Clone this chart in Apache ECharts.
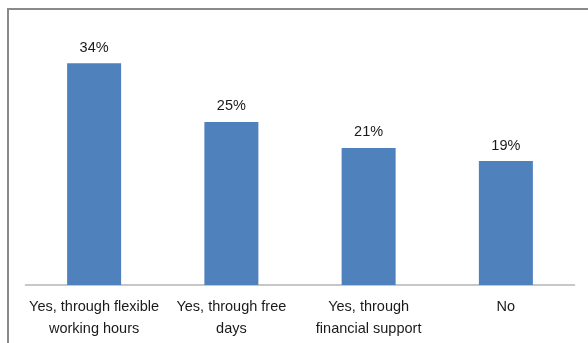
<!DOCTYPE html>
<html>
<head>
<meta charset="utf-8">
<script src="https://cdn.jsdelivr.net/npm/echarts@6/dist/echarts.min.js"></script>
<style>
  html, body { margin: 0; padding: 0; background: #fff; }
  #chart { width: 588px; height: 343px; }
</style>
</head>
<body>
<div id="chart"></div>
<script>
// Survey answers and their shares (percent)
const categories = [
  'Yes, through flexible\nworking hours',
  'Yes, through free\ndays',
  'Yes, through\nfinancial support',
  'No'
];
const shares = [34, 25, 21, 19];

const chart = echarts.init(document.getElementById('chart'), null, { renderer: 'canvas' });

chart.setOption({
  animation: false,
  backgroundColor: '#ffffff',
  textStyle: { fontFamily: 'Liberation Sans, Arial, sans-serif' },
  graphic: [{
    type: 'rect',
    shape: { x: 8, y: 9, width: 620, height: 400 },
    style: { fill: 'none', stroke: '#8a8a8a', lineWidth: 2 },
    silent: true
  }],
  grid: { left: 25.5, right: 13.5, top: 24, bottom: 58, containLabel: false },
  xAxis: {
    type: 'category',
    data: categories,
    axisLine: { show: true, lineStyle: { color: '#b5b5b5', width: 1.5 } },
    axisTick: { show: false },
    axisLabel: {
      interval: 0,
      margin: 11,
      color: '#1a1a1a',
      fontSize: 14.5,
      lineHeight: 22,
      fontFamily: 'Liberation Sans, Arial, sans-serif'
    }
  },
  yAxis: {
    type: 'value',
    min: 0,
    max: 40,
    show: false,
    splitLine: { show: false }
  },
  series: [{
    type: 'bar',
    data: shares,
    barWidth: 54,
    itemStyle: { color: '#4f81bd' },
    label: {
      show: true,
      position: 'top',
      distance: 8,
      formatter: '{c}%',
      color: '#1a1a1a',
      fontSize: 14.5,
      fontFamily: 'Liberation Sans, Arial, sans-serif'
    }
  }]
});
</script>
</body>
</html>
